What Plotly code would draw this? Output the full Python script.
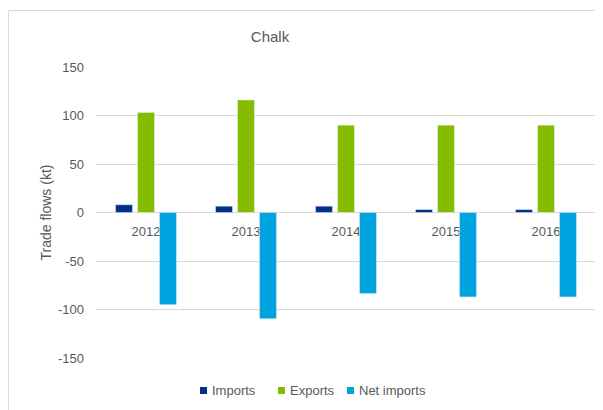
import plotly.graph_objects as go

years = ["2012", "2013", "2014", "2015", "2016"]
imports = [8, 6.5, 6.5, 3, 3]
exports = [103, 116, 90, 90, 90]
net_imports = [-95, -109.5, -83.5, -87, -87]

y_tick_vals = [-150, -100, -50, 0, 50, 100, 150]
y_tick_text = ["-150", "-100", "-50", "0", "50", "100", "150"]

series_names = ["Imports", "Exports", "Net imports"]
series_colors = ["#002F87", "#84BD00", "#00A3E0"]

D = 8  # page body margin offset
W, H = 603 - D, 410 - D
L, R, T, B = 96 - D, 7, 67 - D, 52
pw, ph = W - L - R, H - T - B


def px(x):
    """page pixel x -> paper coord"""
    return (x - D - L) / pw


def py(y):
    """page pixel y -> paper coord"""
    return (H - B - (y - D)) / ph


font = "Liberation Sans"
grey = "#595959"

fig = go.Figure()
for name, vals, col in zip(series_names, [imports, exports, net_imports], series_colors):
    fig.add_bar(x=years, y=vals, name=name, marker_color=col, showlegend=False)

# compact legend (squares + text), like the Excel legend
legend_sq = [200, 278, 347]
shapes = [
    dict(type="line", xref="paper", yref="paper", x0=px(8.5), x1=px(603), y0=py(10.5), y1=py(10.5),
         line=dict(color="#D9D9D9", width=1)),
    dict(type="line", xref="paper", yref="paper", x0=px(8.5), x1=px(8.5), y0=py(10.5), y1=py(410),
         line=dict(color="#D9D9D9", width=1)),
]
annotations = []
for name, col, sx in zip(series_names, series_colors, legend_sq):
    shapes.append(dict(type="rect", xref="paper", yref="paper", x0=px(sx), x1=px(sx + 7),
                       y0=py(394), y1=py(387), fillcolor=col, line=dict(width=0)))
    annotations.append(dict(text=name, xref="paper", yref="paper", x=px(sx + 10), y=py(390.5),
                            xanchor="left", yanchor="middle", showarrow=False,
                            font=dict(family=font, size=13, color=grey)))

fig.update_layout(
    width=W, height=H,
    margin=dict(l=L, r=R, t=T, b=B),
    paper_bgcolor="white", plot_bgcolor="white",
    barmode="group", bargap=0.34, bargroupgap=0.23,
    font=dict(family=font, color=grey, size=13),
    title=dict(text="Chalk", x=(270 - D) / W, xanchor="center", y=1 - (37 - D) / H, yanchor="middle",
               font=dict(family=font, size=15, color=grey)),
    showlegend=False,
    xaxis=dict(showgrid=False, showline=False, ticks="", anchor="free", position=0.5 - 9 / ph,
               layer="below traces", tickfont=dict(size=13, color=grey)),
    yaxis=dict(range=[-150, 150], tickvals=y_tick_vals, ticktext=y_tick_text,
               showgrid=True, gridcolor="#D9D9D9", gridwidth=1,
               zeroline=True, zerolinecolor="#D9D9D9", zerolinewidth=1,
               showline=False, ticks="", ticklen=0, ticklabelstandoff=11,
               tickfont=dict(size=13, color=grey),
               title=dict(text="Trade flows (kt)", font=dict(size=14, color=grey), standoff=3)),
    shapes=shapes,
    annotations=annotations,
)

fig.write_html("out.html")
